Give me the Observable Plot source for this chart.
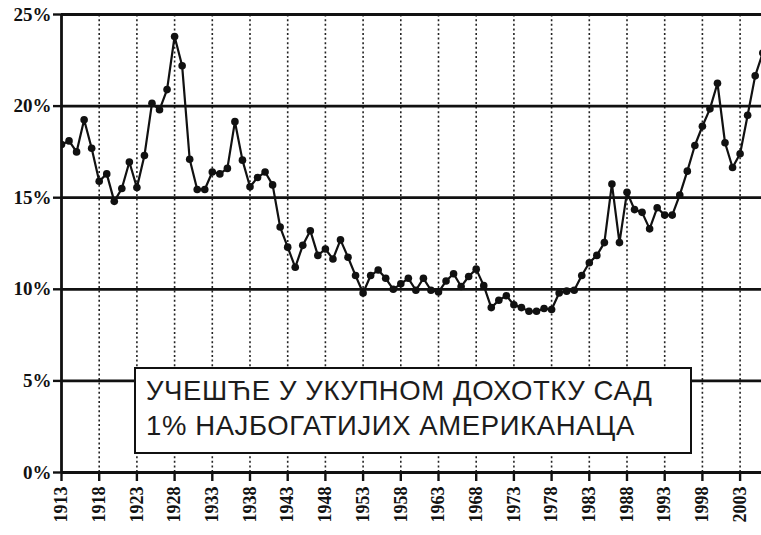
<!DOCTYPE html>
<html>
<head>
<meta charset="utf-8">
<script src="https://cdn.jsdelivr.net/npm/d3@7"></script>
<script src="https://cdn.jsdelivr.net/npm/@observablehq/plot@0.6"></script>
<style>
  html, body { margin: 0; padding: 0; background: #fff; }
  #wrap { position: relative; width: 761px; height: 535px; overflow: hidden; }
  #box {
    position: absolute; left: 134px; top: 367px; width: 554px; height: 83px;
    border: 2.5px solid #111; background: #fff;
  }
  #box .txt {
    position: absolute; left: 10px; top: 5px;
    font-family: "Liberation Sans", Arial, sans-serif; font-size: 27.5px;
    letter-spacing: 0.6px;
    line-height: 34.6px; color: #1c1c1c; white-space: nowrap;
  }
</style>
</head>
<body>
<div id="wrap"></div>
<script>
// ---- data ----
const years = [
  1913,1914,1915,1916,1917,1918,1919,1920,1921,1922,1923,1924,1925,1926,1927,1928,1929,1930,
  1931,1932,1933,1934,1935,1936,1937,1938,1939,1940,1941,1942,1943,1944,1945,1946,1947,1948,
  1949,1950,1951,1952,1953,1954,1955,1956,1957,1958,1959,1960,1961,1962,1963,1964,1965,1966,
  1967,1968,1969,1970,1971,1972,1973,1974,1975,1976,1977,1978,1979,1980,1981,1982,1983,1984,
  1985,1986,1987,1988,1989,1990,1991,1992,1993,1994,1995,1996,1997,1998,1999,2000,2001,2002,
  2003,2004,2005,2006
];
const shares = [
  17.9,18.1,17.5,19.25,17.7,15.9,16.3,14.8,15.5,16.95,15.55,17.3,20.15,19.8,20.9,23.8,22.2,17.1,
  15.45,15.45,16.4,16.3,16.6,19.15,17.05,15.6,16.1,16.4,15.7,13.4,12.3,11.2,12.4,13.2,11.85,12.2,
  11.65,12.7,11.75,10.75,9.8,10.75,11.05,10.6,10.0,10.3,10.6,9.95,10.6,9.95,9.85,10.45,10.85,10.15,
  10.7,11.1,10.2,9.0,9.4,9.65,9.15,9.0,8.8,8.8,8.95,8.9,9.8,9.9,9.95,10.75,11.45,11.85,
  12.55,15.75,12.55,15.3,14.35,14.2,13.3,14.45,14.05,14.05,15.15,16.45,17.85,18.9,19.85,21.25,18.0,16.65,
  17.4,19.5,21.65,22.9
];
const yTicks = [0, 5, 10, 15, 20, 25];
const xTicks = [1913,1918,1923,1928,1933,1938,1943,1948,1953,1958,1963,1968,1973,1978,1983,1988,1993,1998,2003];
const gridYears = xTicks.slice(1);
const titleLines = ["УЧЕШЋЕ У УКУПНОМ ДОХОТКУ САД", "1% НАЈБОГАТИЈИХ АМЕРИКАНАЦА"];

const data = years.map((y, i) => ({year: y, share: shares[i]}));

const pxPerYear = 7.54;
const mLeft = 61;
const W = 761;

const chart = Plot.plot({
  width: W,
  height: 535,
  marginLeft: mLeft,
  marginRight: 0,
  marginTop: 14,
  marginBottom: 63,
  style: {fontFamily: "'Liberation Serif', 'DejaVu Serif', serif", fontSize: "16px", fontWeight: "bold", color: "#111", background: "#fff", fontVariantNumeric: "oldstyle-nums"},
  x: {domain: [1913, 1913 + (W - mLeft) / pxPerYear], label: null},
  y: {domain: [0, 25], label: null},
  marks: [
    Plot.ruleX(gridYears, {y1: 0, y2: 25, stroke: "#222", strokeWidth: 1.6, strokeDasharray: "2,2.6"}),
    Plot.ruleY(yTicks, {stroke: "#111", strokeWidth: 2.8}),
    Plot.ruleX([1913], {y1: 0, y2: 25, stroke: "#111", strokeWidth: 2.8}),
    Plot.axisY({ticks: yTicks, tickSize: 8, tickPadding: 2, strokeWidth: 2.4, tickFormat: d => d + "%", fontSize: 19}),
    Plot.axisX({ticks: xTicks, tickSize: 9, tickPadding: 5, strokeWidth: 2.4, tickRotate: -90, tickFormat: d => String(d), fontSize: 18}),
    Plot.line(data, {x: "year", y: "share", stroke: "#111", strokeWidth: 2.2, clip: true}),
    Plot.dot(data, {x: "year", y: "share", r: 3.8, fill: "#111", stroke: "none", clip: true})
  ]
});

const wrap = document.getElementById("wrap");
wrap.appendChild(chart);
const box = document.createElement("div");
box.id = "box";
const txt = document.createElement("div");
txt.className = "txt";
titleLines.forEach(line => {
  const d = document.createElement("div");
  d.textContent = line;
  txt.appendChild(d);
});
box.appendChild(txt);
wrap.appendChild(box);
</script>
</body>
</html>
